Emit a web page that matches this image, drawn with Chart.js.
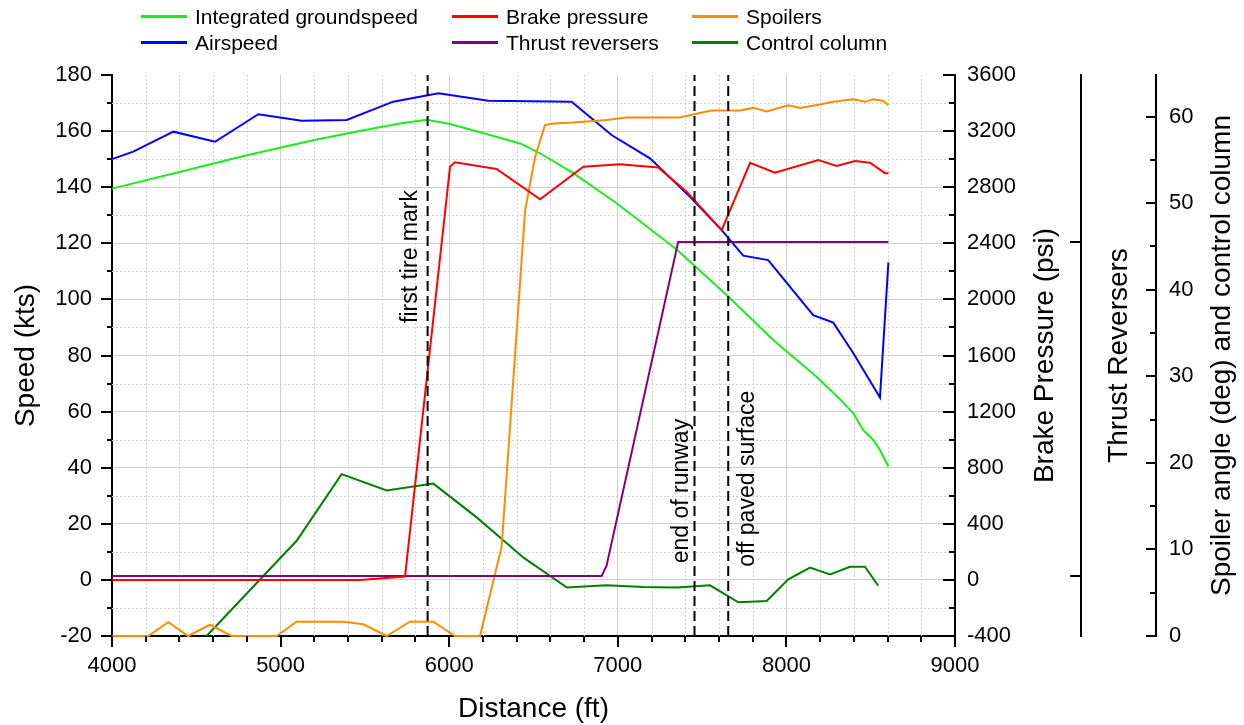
<!DOCTYPE html>
<html>
<head>
<meta charset="utf-8">
<title>Landing roll: speed, brakes, reversers, spoilers</title>
<script src="https://cdn.jsdelivr.net/npm/chart.js@4.4.1/dist/chart.umd.min.js"></script>
<style>
  html,body{margin:0;padding:0;background:#fff;}
  #wrap{width:1244px;height:725px;}
</style>
</head>
<body>
<div id="wrap"><canvas id="chart" width="1244" height="725"></canvas></div>
<script>
/* landing roll chart
   - six traces against distance, four y axes
   - grid, ticks, titles and legend drawn by a small plugin
*/

// traces, distance in ft
const groundspeedDist = [4000, 4400, 4800, 5200, 5500, 5700, 5866, 6005, 6242, 6420, 6539, 6736, 6993, 7349, 7655, 7922, 8179, 8318, 8397, 8456, 8516, 8555, 8605];
const groundspeedKts  = [139.5, 145.4, 151.4, 156.8, 160.4, 162.6, 164.0, 162.5, 158.6, 155.6, 152.1, 145.0, 134.3, 117.8, 101.0, 85.5, 72.4, 64.4, 59.4, 53.4, 49.9, 46.3, 40.4];

const airspeedDist = [4000, 4126, 4364, 4611, 4868, 5125, 5392, 5668, 5936, 6232, 6726, 6965, 7191, 7428, 7616, 7744, 7892, 8159, 8278, 8397, 8555, 8605];
const airspeedKts  = [150.0, 152.7, 159.8, 156.2, 166.0, 163.7, 164.0, 170.5, 173.5, 170.8, 170.5, 158.5, 150.3, 136.6, 124.7, 115.6, 114.0, 94.4, 91.7, 80.8, 65.0, 113.2];

const brakeDist = [4000, 5471, 5738, 6005, 6034, 6281, 6539, 6796, 7013, 7240, 7408, 7616, 7785, 7932, 8189, 8298, 8407, 8496, 8585, 8605];
const brakePsi  = [0, 0, 24, 2946, 2978, 2930, 2714, 2946, 2964, 2940, 2768, 2494, 2974, 2904, 2994, 2952, 2986, 2974, 2900, 2900];

const reverserDist  = [4000, 6904, 6933, 7358, 8605];
const reverserState = [0, 0, 0.03, 1, 1];

const spoilerDist = [4000, 4215, 4334, 4452, 4581, 4710, 4977, 5095, 5372, 5491, 5629, 5767, 5906, 6034, 6183, 6311, 6450, 6509, 6568, 6617, 6736, 6934, 7053, 7369, 7458, 7557, 7725, 7804, 7883, 8011, 8081, 8199, 8278, 8397, 8466, 8516, 8575, 8605];
const spoilerDeg  = [0, 0, 1.6, 0, 1.3, 0, 0, 1.65, 1.65, 1.35, 0, 1.65, 1.65, 0, 0, 10.3, 49.1, 55.3, 59.0, 59.2, 59.3, 59.6, 59.9, 59.9, 60.3, 60.7, 60.7, 61.0, 60.6, 61.3, 61.0, 61.4, 61.7, 62.0, 61.7, 62.0, 61.8, 61.3];

const columnDist = [4561, 5095, 5362, 5629, 5906, 6163, 6441, 6698, 6933, 7151, 7349, 7547, 7715, 7883, 8011, 8140, 8259, 8377, 8466, 8545];
const columnDeg  = [0, 11.0, 18.7, 16.8, 17.6, 13.7, 9.05, 5.6, 5.86, 5.66, 5.6, 5.86, 3.9, 4.05, 6.55, 7.9, 7.1, 8.0, 8.0, 5.8];

// dashed reference lines
const markerDist   = [5872, 7455, 7655];
const markerLabels = ['first tire mark', 'end of runway', 'off paved surface'];
const markerLabelKts = [91.6, 5.9, 4.7];   // where each label starts (speed axis)

// axis ranges and ticks
const distRange  = [4000, 9000], distStep = 1000, distMinor = 200;
const speedRange = [-20, 180],   speedStep = 20,  speedMinor = 10;
const psiRange   = [-400, 3600], psiStep = 400,   psiMinor = 200;
const revRange   = [-0.1796, 1.5], revTicks = [0, 1];
const degRange   = [0, 64.8],    degStep = 10,    degMinor = 5;

const FONT = '"Liberation Sans", Arial, sans-serif';
const pts = (xs, ys) => xs.map((x, i) => ({x, y: ys[i]}));

function trace(label, xs, ys, color, axis){
  return { label, data: pts(xs, ys), borderColor: color, backgroundColor: color, borderWidth: 2,
           pointRadius: 0, tension: 0, yAxisID: axis, clip: false };
}

const markers = markerDist.map((d, i) => ({
  label: markerLabels[i], data: [{x: d, y: speedRange[0]}, {x: d, y: speedRange[1]}],
  borderColor: '#000', borderWidth: 2, borderDash: [10, 5], pointRadius: 0, yAxisID: 'y', isMarker: true
}));

// first dataset ends up on top
const datasets = markers.concat([
  trace('Brake pressure', brakeDist, brakePsi, '#ff0000', 'yPsi'),
  trace('Thrust reversers', reverserDist, reverserState, '#800080', 'yRev'),
  trace('Spoilers', spoilerDist, spoilerDeg, '#ff8c00', 'yDeg'),
  trace('Control column', columnDist, columnDeg, '#008000', 'yDeg'),
  trace('Airspeed', airspeedDist, airspeedKts, '#0000ff', 'y'),
  trace('Integrated groundspeed', groundspeedDist, groundspeedKts, '#1aee1a', 'y')
]);

// legend grid: column x of the line, row baseline
const legendItems = [
  ['Integrated groundspeed', 0, 0], ['Airspeed', 0, 1],
  ['Brake pressure', 1, 0], ['Thrust reversers', 1, 1],
  ['Spoilers', 2, 0], ['Control column', 2, 1]
];
const legendCols = [141, 452, 692], legendRows = [24, 50];

const markerLabelDx = [-11, -6.5, 26];

function steps(lo, hi, step){ const a = []; for(let v = lo; v <= hi + 1e-9; v += step) a.push(+v.toFixed(4)); return a; }

const decor = {
  id: 'decor',
  beforeDatasetsDraw(chart){
    const {ctx, chartArea: a, scales: {x, y}} = chart;
    ctx.save();
    ctx.strokeStyle = '#d2d2d2'; ctx.lineWidth = 1; ctx.setLineDash([2, 2]);
    steps(distRange[0], distRange[1], distMinor).filter(v => v % distStep).forEach(v => {
      const px = Math.round(x.getPixelForValue(v)) + 0.5;
      ctx.beginPath(); ctx.moveTo(px, a.top); ctx.lineTo(px, a.bottom); ctx.stroke();
    });
    steps(speedRange[0], speedRange[1], speedMinor).filter(v => v % speedStep).forEach(v => {
      const py = Math.round(y.getPixelForValue(v)) + 0.5;
      ctx.beginPath(); ctx.moveTo(a.left, py); ctx.lineTo(a.right, py); ctx.stroke();
    });
    ctx.restore();
  },
  afterDraw(chart){
    const {ctx, chartArea: a, scales: s} = chart;
    ctx.save();
    ctx.strokeStyle = '#000'; ctx.lineWidth = 2; ctx.setLineDash([]);

    // ticks on vertical axes all point left
    function vTicks(scale, xAt, vals, len){
      vals.forEach(v => {
        const py = Math.round(scale.getPixelForValue(v));
        ctx.beginPath(); ctx.moveTo(xAt, py); ctx.lineTo(xAt - len, py); ctx.stroke();
      });
    }
    const left = s.y.right, psiX = s.yPsi.left, revX = s.yRev.left, degX = s.yDeg.left;
    vTicks(s.y, left, steps(speedRange[0], speedRange[1], speedStep), 11);
    vTicks(s.y, left, steps(speedRange[0], speedRange[1], speedMinor).filter(v => v % speedStep), 5);
    vTicks(s.yPsi, psiX, steps(psiRange[0], psiRange[1], psiStep), 12);
    vTicks(s.yPsi, psiX, steps(psiRange[0], psiRange[1], psiMinor).filter(v => v % psiStep), 6);
    vTicks(s.yRev, revX, revTicks, 11);
    vTicks(s.yDeg, degX, steps(degRange[0], 60, degStep), 10);
    vTicks(s.yDeg, degX, steps(degRange[0], 60, degMinor).filter(v => v % degStep), 6);

    // distance ticks hang down
    const bx = s.x.top;
    steps(distRange[0], distRange[1], distMinor).forEach(v => {
      const px = Math.round(s.x.getPixelForValue(v));
      const len = v % distStep ? 6 : 11;
      ctx.beginPath(); ctx.moveTo(px, bx); ctx.lineTo(px, bx + len); ctx.stroke();
    });

    // axis titles
    ctx.fillStyle = '#000';
    ctx.font = '28px ' + FONT;
    ctx.textAlign = 'center'; ctx.textBaseline = 'alphabetic';
    ctx.fillText('Distance (ft)', (a.left + a.right) / 2, 717);
    const midY = (a.top + a.bottom) / 2;
    [['Speed (kts)', 33.5], ['Brake Pressure (psi)', 1053], ['Thrust Reversers', 1127],
     ['Spoiler angle (deg) and control column', 1230]].forEach(([t, bx2]) => {
      ctx.save(); ctx.translate(bx2, midY); ctx.rotate(-Math.PI / 2);
      ctx.fillText(t, 0, 0); ctx.restore();
    });

    // marker labels, reading upwards
    ctx.font = '23px ' + FONT; ctx.textAlign = 'left';
    markerLabels.forEach((t, i) => {
      const px = s.x.getPixelForValue(markerDist[i]) + markerLabelDx[i];
      const py = s.y.getPixelForValue(markerLabelKts[i]);
      ctx.save(); ctx.translate(px, py); ctx.rotate(-Math.PI / 2);
      ctx.fillText(t, 0, 0); ctx.restore();
    });

    // legend
    ctx.font = '21px ' + FONT;
    legendItems.forEach(([label, c, r]) => {
      const ds = chart.data.datasets.find(d => d.label === label);
      const lx = legendCols[c], ly = legendRows[r];
      ctx.strokeStyle = ds.borderColor; ctx.lineWidth = 3;
      ctx.beginPath(); ctx.moveTo(lx, ly - 7.5); ctx.lineTo(lx + 46, ly - 7.5); ctx.stroke();
      ctx.fillText(label, lx + 54, ly);
    });
    ctx.restore();
  }
};

const tickFont = { family: FONT, size: 22 };
const noGrid = { display: false, drawTicks: false };
const axisBorder = { display: true, color: '#000', width: 2 };
const fixWidth = w => (scale => { scale.width = w; });

new Chart(document.getElementById('chart').getContext('2d'), {
  type: 'line',
  data: { datasets },
  options: {
    responsive: false,
    animation: false,
    parsing: true,
    layout: { padding: { top: 75, left: 0, right: 0, bottom: 0 } },
    plugins: { legend: { display: false }, tooltip: { enabled: false } },
    scales: {
      x: {
        type: 'linear', position: 'bottom', min: distRange[0], max: distRange[1],
        ticks: { stepSize: distStep, font: tickFont, color: '#000', padding: 17, maxRotation: 0, callback: v => String(v) },
        grid: { color: '#cfcfcf', lineWidth: 1, drawTicks: false },
        border: axisBorder,
        afterFit: scale => { scale.height = 89; }
      },
      y: {
        type: 'linear', position: 'left', min: speedRange[0], max: speedRange[1],
        ticks: { stepSize: speedStep, font: tickFont, color: '#000', padding: 20, callback: v => String(v) },
        grid: { color: c => (c.tick && c.tick.value === speedRange[1]) ? 'rgba(0,0,0,0)' : '#cfcfcf', lineWidth: 1, drawTicks: false },
        border: axisBorder,
        afterFit: fixWidth(112)
      },
      yPsi: {
        type: 'linear', position: 'right', min: psiRange[0], max: psiRange[1],
        ticks: { stepSize: psiStep, font: tickFont, color: '#000', padding: 12, callback: v => String(v) },
        grid: noGrid, border: axisBorder,
        afterFit: fixWidth(126)
      },
      yRev: {
        type: 'linear', position: 'right', min: revRange[0], max: revRange[1],
        ticks: { display: false },
        grid: noGrid, border: axisBorder,
        afterFit: fixWidth(75)
      },
      yDeg: {
        type: 'linear', position: 'right', min: degRange[0], max: degRange[1],
        ticks: { stepSize: degStep, includeBounds: false, font: tickFont, color: '#000', padding: 13, callback: v => String(v) },
        grid: noGrid, border: axisBorder,
        afterFit: fixWidth(88)
      }
    }
  },
  plugins: [decor]
});
</script>
</body>
</html>
